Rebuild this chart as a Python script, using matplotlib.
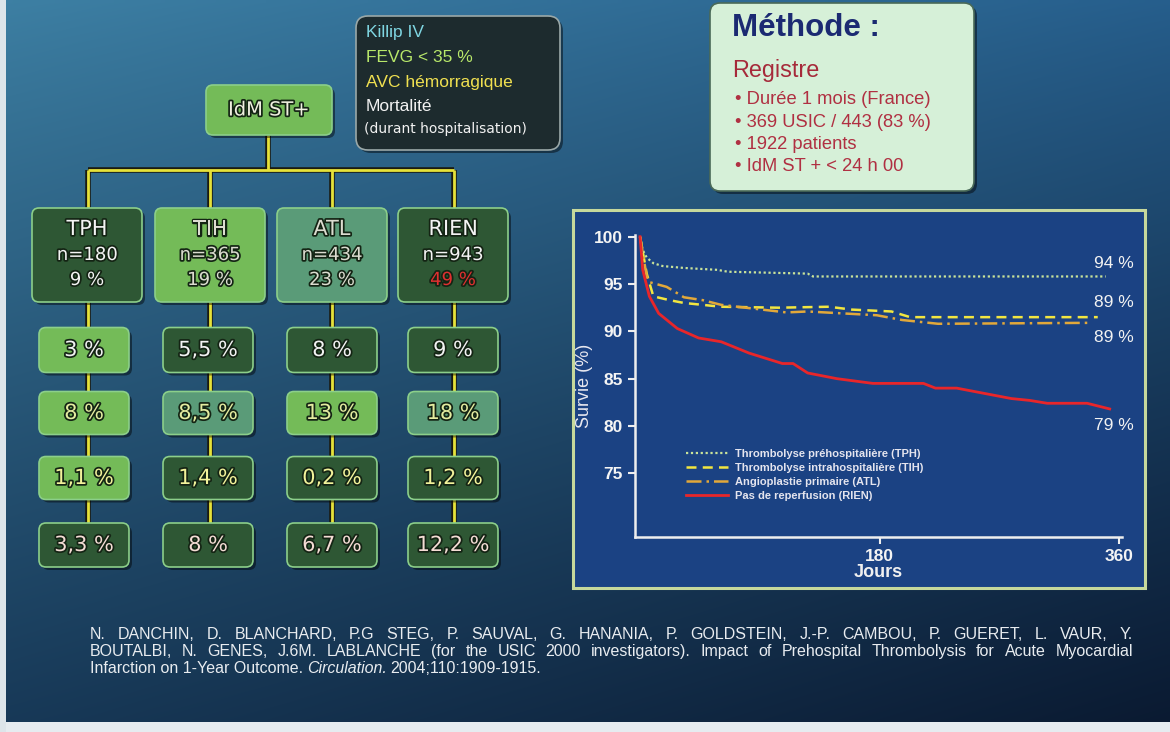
import matplotlib
matplotlib.use("Agg")
import numpy as np
import matplotlib.pyplot as plt
import matplotlib.patheffects as pe
from matplotlib.patches import FancyBboxPatch, Rectangle

# ── Data ───────────────────────────────────────────────────────────────
groups = ["TPH", "TIH", "ATL", "RIEN"]
n_patients = [180, 365, 434, 943]
share_pct = [9, 19, 23, 49]

criteria = ["Killip IV", "FEVG < 35 %", "AVC hémorragique", "Mortalité"]
killip_iv = [3, 5.5, 8, 9]
fevg_35 = [8, 8.5, 13, 18]
avc_hemo = [1.1, 1.4, 0.2, 1.2]
mortalite = [3.3, 8, 6.7, 12.2]

methode_title = "Méthode :"
methode_sub = "Registre"
methode_items = ["Durée 1 mois (France)", "369 USIC / 443 (83 %)",
                 "1922 patients", "IdM ST + < 24 h 00"]

days_tph = [0, 2, 5, 10, 17, 33, 58, 66, 126, 130, 350]
surv_tph = [100, 98.6, 97.8, 97.2, 96.9, 96.7, 96.5, 96.3, 96.1, 95.8, 95.8]

days_tih = [0, 5, 10, 22, 33, 61, 104, 142, 159, 189, 203, 344]
surv_tih = [100, 96.1, 93.7, 93.3, 93.0, 92.6, 92.5, 92.6, 92.3, 92.1, 91.5, 91.5]

days_atl = [0, 5, 7, 20, 26, 33, 47, 61, 110, 126, 178, 197, 224, 339]
surv_atl = [100, 95.8, 95.2, 94.7, 94.2, 93.6, 93.3, 92.8, 92.0, 92.1, 91.7, 91.2, 90.8, 90.9]

days_rien = [0, 2, 7, 14, 28, 44, 61, 82, 107, 115, 126, 148, 175, 213, 222,
             238, 279, 293, 306, 336, 353]
surv_rien = [100, 96.5, 93.7, 91.9, 90.3, 89.3, 88.9, 87.7, 86.6, 86.6, 85.6,
             85.0, 84.5, 84.5, 84.0, 84.0, 82.9, 82.7, 82.4, 82.4, 81.8]

legend_labels = ["Thrombolyse préhospitalière (TPH)",
                 "Thrombolyse intrahospitalière (TIH)",
                 "Angioplastie primaire (ATL)",
                 "Pas de reperfusion (RIEN)"]
end_labels = ["94 %", "89 %", "89 %", "79 %"]
end_label_y = [97.2, 93.0, 89.4, 80.1]

cite_l1 = ("N. DANCHIN, D. BLANCHARD, P.G STEG, P. SAUVAL, G. HANANIA, "
           "P. GOLDSTEIN, J.-P. CAMBOU, P. GUERET, L. VAUR, Y.")
cite_l2 = ("BOUTALBI, N. GENES, J.6M. LABLANCHE (for the USIC 2000 investigators). "
           "Impact of Prehospital Thrombolysis for Acute Myocardial")
cite_l3 = ["Infarction on 1-Year Outcome.", "Circulation.", "2004;110:1909-1915."]

# ── Style ──────────────────────────────────────────────────────────────
NARROW = ["Liberation Sans Narrow", "Liberation Sans", "DejaVu Sans"]
SANS = ["Liberation Sans", "DejaVu Sans"]
FLOW = ["DejaVu Sans"]

DARK = "#2e5734"
LIGHT = "#74bb58"
MED = "#5a9b78"

fig = plt.figure(figsize=(11.7, 7.32), dpi=100)

# background, drawn in pixel coordinates
bg = fig.add_axes([0, 0, 1, 1])
bg.set_xlim(0, 1170)
bg.set_ylim(732, 0)
bg.axis("off")

tl = np.array([0.24, 0.50, 0.64])
tr = np.array([0.15, 0.37, 0.55])
bl = np.array([0.09, 0.22, 0.34])
br = np.array([0.04, 0.10, 0.19])
t = np.linspace(0, 1, 150)[:, None, None] ** 0.9
s = np.linspace(0, 1, 240)[None, :, None]
grad = (1 - t) * ((1 - s) * tl + s * tr) + t * ((1 - s) * bl + s * br)
bg.imshow(grad, extent=(0, 1170, 732, 0), aspect="auto", interpolation="bilinear", zorder=0)
bg.add_patch(Rectangle((0, 722), 1170, 10, fc="#e6ecf0", ec="none", zorder=1))
bg.add_patch(Rectangle((0, 0), 6, 732, fc="#dde5ea", ec="none", zorder=1))

outline = [pe.withStroke(linewidth=2.5, foreground="#142414")]


def box(cx, cy, w, h, fc, ec="#8ccf8a", r=7, z=3):
    style = f"round,pad=0,rounding_size={r}"
    bg.add_patch(FancyBboxPatch((cx - w / 2 + 3, cy - h / 2 + 3), w, h, boxstyle=style,
                                fc="black", ec="none", alpha=0.45, zorder=z - 0.5))
    bg.add_patch(FancyBboxPatch((cx - w / 2, cy - h / 2), w, h, boxstyle=style,
                                fc=fc, ec=ec, lw=1.2, zorder=z))


def connector(xs, ys):
    bg.plot(xs, ys, color="#1a1a10", lw=4, zorder=2, solid_capstyle="butt")
    bg.plot(xs, ys, color="#e6e23a", lw=2, zorder=2.1, solid_capstyle="butt")


# ── Flowchart ──────────────────────────────────────────────────────────
col_x = [88, 210, 332, 454]
connector([268, 268], [135, 170])
connector([col_x[0], col_x[-1]], [170, 170])
for cx in col_x:
    connector([cx, cx], [170, 545])

box(269, 110, 126, 50, LIGHT)
bg.text(269, 110, "IdM ST+", ha="center", va="center", fontsize=14, color="#f0f0e0",
        family=FLOW, path_effects=outline, zorder=5)

# criteria box
box(458, 83, 204, 134, "#1d2b2e", ec="#9aa8a8", r=12)
crit_colors = ["#7fd6e2", "#b8e86a", "#f0e050", "#f2f2f2"]
for i, (lab, c) in enumerate(zip(criteria, crit_colors)):
    bg.text(366, 33 + 24.5 * i, lab, ha="left", va="center", fontsize=12.5,
            color=c, family=SANS, zorder=5)
bg.text(364, 129, "(durant hospitalisation)", ha="left", va="center", fontsize=10,
        color="#f2f2f2", family=FLOW, zorder=5)

top_fc = [DARK, LIGHT, MED, DARK]
for i, g in enumerate(groups):
    cx = [87, 210, 332, 453][i]
    box(cx, 255, 110, 94, top_fc[i])
    tc = "#f4f4f4" if top_fc[i] == DARK else "#dcdcd0"
    bg.text(cx, 229, g, ha="center", va="center", fontsize=15, color=tc,
            family=FLOW, path_effects=outline, zorder=5)
    bg.text(cx, 255, f"n={n_patients[i]}", ha="center", va="center", fontsize=13,
            color=tc, family=FLOW, path_effects=outline, zorder=5)
    pc = "#e03030" if g == "RIEN" else tc
    bg.text(cx, 280, f"{share_pct[i]} %", ha="center", va="center", fontsize=13,
            color=pc, family=FLOW, path_effects=outline, zorder=5)

rows = [killip_iv, fevg_35, avc_hemo, mortalite]
row_y = [350, 413, 478, 545]
row_h = [45, 43, 43, 44]
row_fc = [[LIGHT, DARK, DARK, DARK],
          [LIGHT, MED, LIGHT, MED],
          [LIGHT, DARK, DARK, DARK],
          [DARK, DARK, DARK, DARK]]
row_tc = ["#f2f2f2", "#e4eca0", "#f2f29a", "#f4dcd4"]
for r, vals in enumerate(rows):
    for i, v in enumerate(vals):
        cx = [84, 208, 332, 453][i]
        box(cx, row_y[r], 90, row_h[r], row_fc[r][i])
        lab = f"{v:g}".replace(".", ",") + " %"
        bg.text(cx, row_y[r], lab, ha="center", va="center", fontsize=15,
                color=row_tc[r], family=FLOW, path_effects=outline, zorder=5)

# ── Méthode box ────────────────────────────────────────────────────────
box(842, 97, 264, 188, "#d6f0d8", ec="#4a6a58", r=10)
bg.text(732, 28, methode_title, ha="left", va="center", fontsize=22.5, fontweight="bold",
        color="#1b2a72", family=SANS, zorder=5)
bg.text(732, 70, methode_sub, ha="left", va="center", fontsize=16.8,
        color="#a62a3a", family=SANS, zorder=5)
for i, item in enumerate(methode_items):
    bg.text(735, 100 + 22.3 * i, "• " + item, ha="left", va="center", fontsize=13.2,
            color="#b03042", family=SANS, zorder=5)

# ── Survival chart ─────────────────────────────────────────────────────
bg.add_patch(Rectangle((573, 210), 572, 378, fc="#1b4283", ec="#c6d89c", lw=2.2, zorder=1))

ax = fig.add_axes([0.5425, 0.2668, 0.4162, 0.4124])
ax.patch.set_alpha(0)
ax.set_xlim(-4, 362)
ax.set_ylim(68.3, 100.2)

l1, = ax.plot(days_tph, surv_tph, color="#c9e39a", lw=1.6, ls=(0, (1, 1.2)))
l2, = ax.plot(days_tih, surv_tih, color="#f2e640", lw=1.8, ls=(0, (4, 2.5)))
l3, = ax.plot(days_atl, surv_atl, color="#e2a83a", lw=1.8, ls=(0, (6, 2, 1, 2)))
l4, = ax.plot(days_rien, surv_rien, color="#e8262a", lw=2.0)

for lab, yv in zip(end_labels, end_label_y):
    ax.text(356, yv, lab, ha="center", va="center", fontsize=12.5, color="#f2f2f2",
            family=SANS)

for side in ["top", "right"]:
    ax.spines[side].set_visible(False)
for side in ["left", "bottom"]:
    ax.spines[side].set_color("#eeeeee")
    ax.spines[side].set_linewidth(1.8)
ax.set_yticks([75, 80, 85, 90, 95, 100])
ax.set_xticks([180, 360])
ax.tick_params(colors="#eeeeee", width=1.5, length=5, direction="out")
for tk in ax.get_xticklabels() + ax.get_yticklabels():
    tk.set_family(NARROW)
    tk.set_fontweight("bold")
    tk.set_fontsize(12.5)
    tk.set_color("#f4f4f4")
ax.set_ylabel("Survie (%)", fontsize=13, color="#e8e8f0", family=SANS, labelpad=1)
ax.set_xlabel("Jours", fontsize=13, color="#f0f0f0", family=NARROW, fontweight="bold",
              labelpad=0)

leg = ax.legend([l1, l2, l3, l4], legend_labels, loc="upper left",
                bbox_to_anchor=(0.105, 0.29), frameon=False, handlelength=3.8,
                labelspacing=0.35, handletextpad=0.6, borderpad=0, borderaxespad=0,
                prop={"family": NARROW, "size": 8, "weight": "bold"},
                labelcolor="#e4e4ee")

# ── Citation (justified lines) ─────────────────────────────────────────
renderer = fig.canvas.get_renderer()
cite_kw = dict(fontsize=11.5, color="#e8ecf0", family=SANS, va="baseline", zorder=5)


def justify(text, y, x0, x1):
    words = text.split(" ")
    arts = [bg.text(0, y, w, ha="left", **cite_kw) for w in words]
    widths = [a.get_window_extent(renderer).width for a in arts]
    gap = (x1 - x0 - sum(widths)) / (len(words) - 1)
    x = x0
    for a, w in zip(arts, widths):
        a.set_x(x)
        x += w + gap


justify(cite_l1, 639, 90, 1133)
justify(cite_l2, 656, 90, 1133)
x = 90
for i, part in enumerate(cite_l3):
    a = bg.text(x, 673, part, ha="left", style="italic" if i == 1 else "normal", **cite_kw)
    x += a.get_window_extent(renderer).width + 3.5

fig.savefig("out.png", dpi=100)
